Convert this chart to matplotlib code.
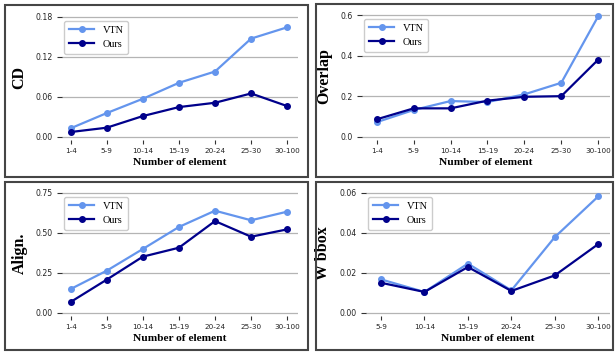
import matplotlib
matplotlib.use("Agg")
import matplotlib.pyplot as plt
from matplotlib.patches import Rectangle

groups7 = ["1-4", "5-9", "10-14", "15-19", "20-24", "25-30", "30-100"]
groups6 = ["5-9", "10-14", "15-19", "20-24", "25-30", "30-100"]

cd_vtn = [0.0126, 0.0355, 0.057, 0.081, 0.098, 0.1475, 0.1645]
cd_ours = [0.007, 0.0135, 0.031, 0.0445, 0.051, 0.065, 0.046]

overlap_vtn = [0.072, 0.132, 0.176, 0.171, 0.209, 0.266, 0.594]
overlap_ours = [0.086, 0.14, 0.14, 0.178, 0.197, 0.20, 0.38]

align_vtn = [0.148, 0.263, 0.399, 0.537, 0.639, 0.579, 0.633]
align_ours = [0.067, 0.207, 0.351, 0.407, 0.574, 0.476, 0.522]

wbbox_vtn = [0.0167, 0.0104, 0.0246, 0.0112, 0.0379, 0.0583]
wbbox_ours = [0.015, 0.0104, 0.0229, 0.0109, 0.0187, 0.0344]

W, H = 616, 353
fig = plt.figure(figsize=(W / 100, H / 100), dpi=100)

def px_axes(left, right, top, bottom):
    return fig.add_axes([left / W, 1 - bottom / H, (right - left) / W, (bottom - top) / H])

def frame(left, right, top, bottom):
    fig.patches.append(Rectangle((left / W, 1 - bottom / H), (right - left) / W, (bottom - top) / H,
                                 transform=fig.transFigure, fill=False, edgecolor="#454545", lw=1.5))

frame(5, 308, 5, 177)
frame(316, 613, 4, 177)
frame(5, 308, 182, 350)
frame(316, 613, 182, 350)

serif = ["Liberation Serif", "DejaVu Serif"]

panels = [
    # (axes box, labels, vtn, ours, ylabel, yticks, ylim, xlim, ytick fmt)
    ((62, 298, 15, 140), groups7, cd_vtn, cd_ours, "CD", [0, 0.06, 0.12, 0.18], (-0.005, 0.183), (-0.24, 6.3), "%.2f"),
    ((362, 610, 13, 140), groups7, overlap_vtn, overlap_ours, "Overlap", [0, 0.2, 0.4, 0.6], (-0.016, 0.61), (-0.4, 6.32), "%.1f"),
    ((62, 298, 191, 316), groups7, align_vtn, align_ours, "Align.", [0, 0.25, 0.5, 0.75], (-0.021, 0.7625), (-0.24, 6.3), "%.2f"),
    ((366, 610, 191, 316), groups6, wbbox_vtn, wbbox_ours, "W bbox", [0, 0.02, 0.04, 0.06], (-0.00165, 0.061), (-0.345, 5.27), "%.2f"),
]

for box, labels, vtn, ours, ylabel, yticks, ylim, xlim, fmt in panels:
    ax = px_axes(*box)
    x = list(range(len(labels)))
    ax.plot(x, vtn, color="#6495ed", lw=1.6, marker="o", ms=4, label="VTN", clip_on=False, zorder=3)
    ax.plot(x, ours, color="#00008b", lw=1.6, marker="o", ms=4, label="Ours", clip_on=False, zorder=4)
    for s in ax.spines.values():
        s.set_visible(False)
    ax.set_xticks(x)
    ax.set_xticklabels(labels)
    ax.set_yticks(yticks)
    ax.set_yticklabels([fmt % v for v in yticks])
    ax.set_ylim(*ylim)
    ax.set_xlim(*xlim)
    ax.yaxis.grid(True, color="#b4b4b4", lw=0.9)
    ax.set_axisbelow(True)
    ax.tick_params(axis="y", length=3.6, width=0.8, color="#333333", labelsize=5.6, pad=3, labelcolor="#222222")
    ax.tick_params(axis="x", length=3, width=0.8, color="#333333", labelsize=5.2, pad=2.5, labelcolor="#222222")
    ax.set_ylabel(ylabel, family=serif, fontweight="bold", fontsize=11.5, labelpad=6)
    ax.set_xlabel("Number of element", family=serif, fontweight="bold", fontsize=8.2, labelpad=3)
    ax.legend(loc="upper left", prop={"family": serif, "size": 7.4}, frameon=True,
              edgecolor="#cccccc", framealpha=1, borderpad=0.45, handlelength=2.5,
              borderaxespad=0.2, bbox_to_anchor=(0.0, 0.97))

fig.savefig("out.png", dpi=100)
